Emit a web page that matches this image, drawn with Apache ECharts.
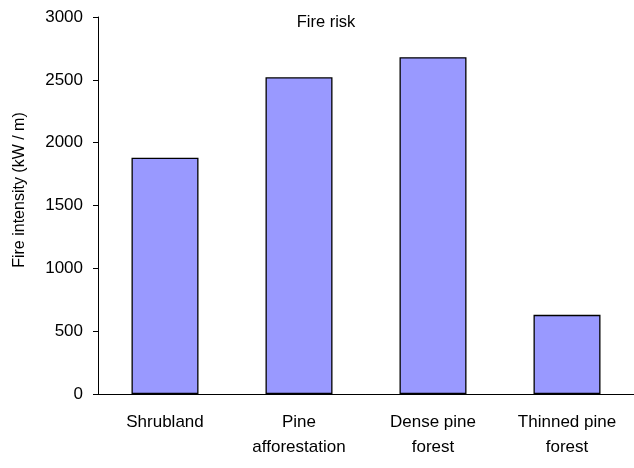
<!DOCTYPE html>
<html><head><meta charset="utf-8">
<script src="https://cdn.jsdelivr.net/npm/echarts@6/dist/echarts.min.js"></script>
<style>html,body{margin:0;padding:0;background:#fff}#c{width:634px;height:468px}</style>
</head><body><div id="c"></div>
<script>
const categories = ["Shrubland", "Pine\nafforestation", "Dense pine\nforest", "Thinned pine\nforest"];
const values = [1880, 2520, 2680, 630];
const yTicks = [0, 500, 1000, 1500, 2000, 2500, 3000];
const titleText = 'Fire risk';
const yName = 'Fire intensity (kW / m)';

const chart = echarts.init(document.getElementById('c'), null, {renderer: 'canvas'});
const font = 'Liberation Sans, Arial, sans-serif';
chart.setOption({
  animation: false,
  backgroundColor: '#fff',
  title: {
    text: titleText, left: 321, top: 9, textAlign: 'center',
    textStyle: {fontFamily: font, fontSize: 16.5, fontWeight: 'normal', color: '#000'}
  },
  graphic: [{
    type: 'text', x: 20, y: 190, rotation: Math.PI / 2,
    style: {text: yName, fontFamily: font, fontSize: 16, fill: '#000', align: 'center', verticalAlign: 'middle'}
  }],
  grid: {left: 98, right: -2, top: 17, bottom: 74, containLabel: false},
  xAxis: {
    type: 'category', data: categories,
    axisLine: {lineStyle: {color: '#000', width: 1}},
    axisTick: {show: false},
    axisLabel: {fontFamily: font, fontSize: 17, color: '#000', margin: 16, lineHeight: 25, interval: 0}
  },
  yAxis: {
    type: 'value', min: yTicks[0], max: yTicks[yTicks.length - 1], interval: 500,
    axisLine: {show: true, lineStyle: {color: '#000', width: 1}},
    axisTick: {show: true, length: 5, lineStyle: {color: '#000'}},
    splitLine: {show: false},
    axisLabel: {fontFamily: font, fontSize: 17, color: '#000', margin: 15, formatter: v => String(v)}
  },
  series: [{
    type: 'bar', data: values, barWidth: '50%',
    itemStyle: {color: '#9999FF', borderColor: '#000', borderWidth: 1.3}
  }]
});
</script></body></html>
